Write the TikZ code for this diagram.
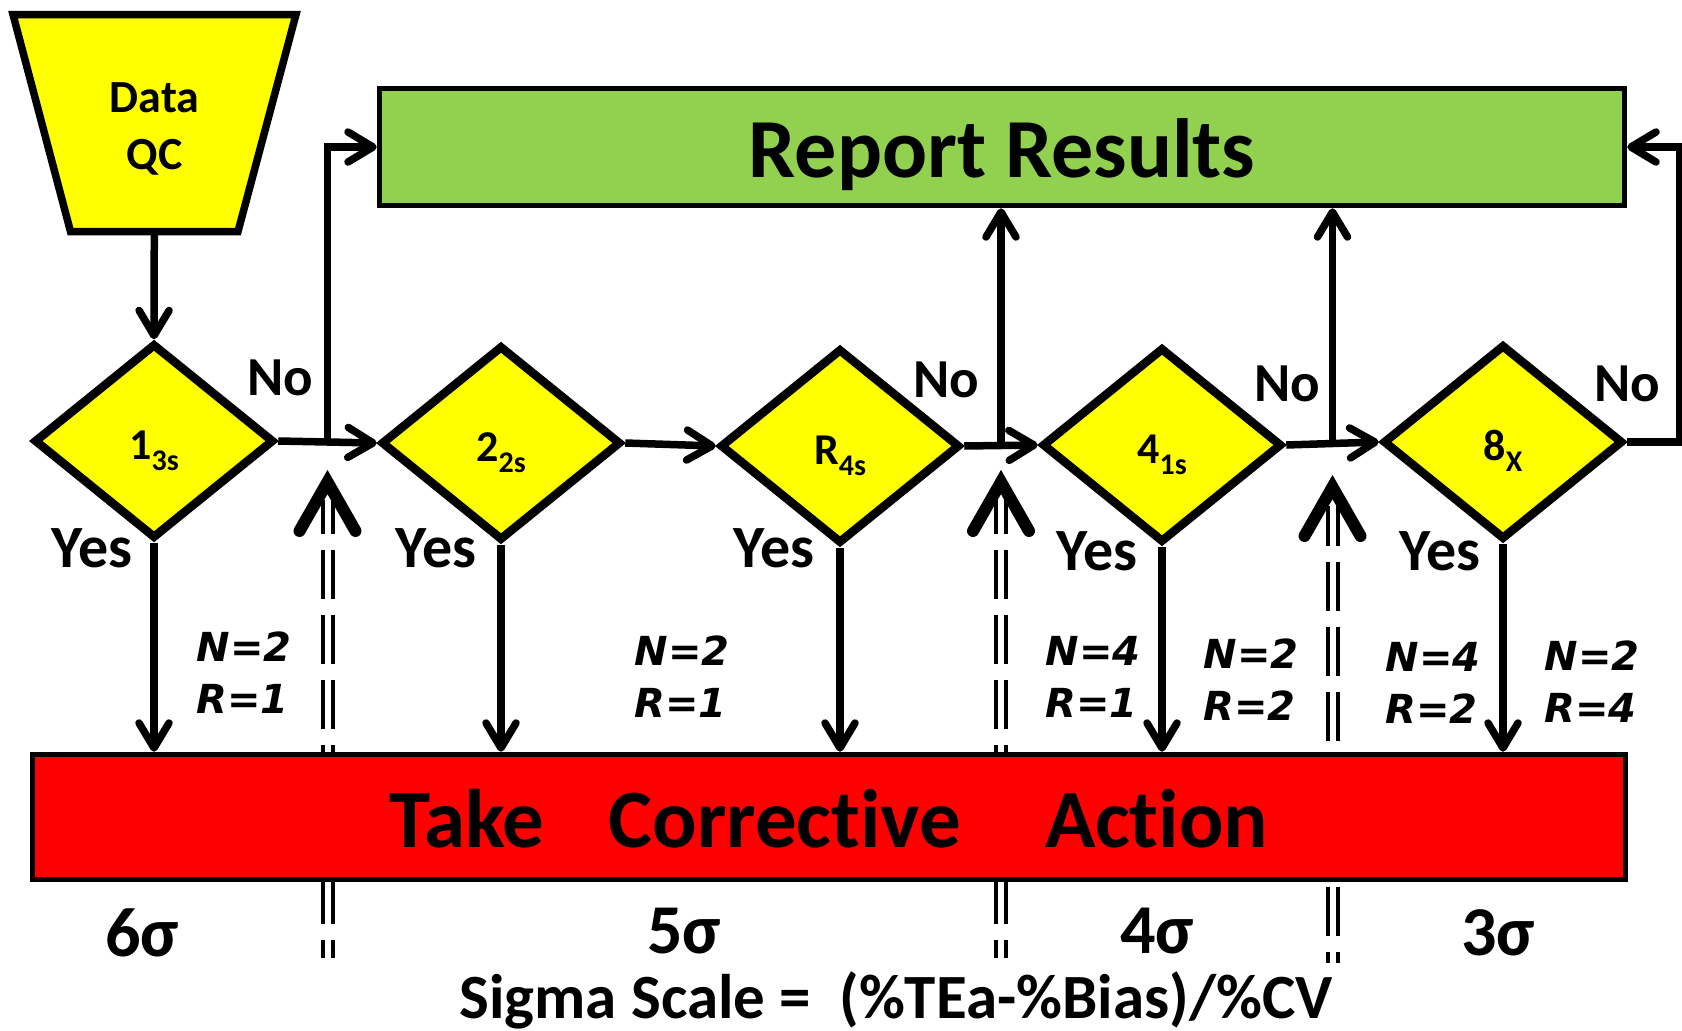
\documentclass[tikz,border=0pt]{standalone}
\usepackage{fontspec}
\setmainfont{Carlito}[Ligatures=NoCommon]
\newfontfamily\nrfont{DejaVu Sans}
\usetikzlibrary{shapes.geometric,arrows.meta,calc}
\definecolor{qcyellow}{HTML}{FFFF00}
\definecolor{qcgreen}{HTML}{92D050}
\definecolor{qcred}{HTML}{FF0000}
\newcommand\qcsub[1]{\raisebox{-11pt}{\fontsize{30}{30}\selectfont #1}}
\begin{document}
\begin{tikzpicture}[x=1pt,y=-1pt,
  rule/.style={diamond, draw=black, line width=8.5pt, fill=qcyellow, minimum width=240pt, minimum height=195pt, inner sep=0pt, text height=42pt, text depth=5pt, font=\bfseries\fontsize{44}{44}\selectfont},
  bigbox/.style={draw=black, line width=5.5pt, inner sep=0pt, text height=60pt, text depth=0pt, font=\bfseries\fontsize{84}{84}\selectfont},
  conn/.style={line width=7.5pt, -{Straight Barb[length=25pt,width=30pt,round]}},
  yn/.style={inner sep=0pt, font=\bfseries\fontsize{55}{55}\selectfont},
  yesl/.style={inner sep=0pt, font=\bfseries\fontsize{60}{60}\selectfont},
  nr/.style={inner sep=0pt, align=left, font=\nrfont\bfseries\itshape\fontsize{40}{52}\selectfont},
  sig/.style={inner sep=0pt, font=\bfseries\fontsize{70}{70}\selectfont},
  sigline/.style={draw=black, line width=4pt, double=white, double distance=6pt, dash pattern=on 49pt off 16pt, dash phase=15pt},
  bigtip/.style={line width=12pt, line cap=round, line join=miter},
]
\useasboundingbox (0,0) rectangle (1682,1031);

% start (trapezoid)
\draw[line width=7.5pt, line join=miter, fill=qcyellow] (13,14.5) -- (296,14.5) -- (238,231.5) -- (70.5,231.5) -- cycle;
\node[align=center, inner sep=0pt, font=\bfseries\fontsize{46}{57}\selectfont] (data) at (154.5,129) {Data\\QC};
\coordinate (dataout) at (154.3,232);

% rules
\node[rule] (d1) at (154,441) {1\qcsub{3s}};
\node[rule] (d2) at (501,443) {2\qcsub{2s}};
\node[rule] (d3) at (840,446) {R\qcsub{4s}};
\node[rule] (d4) at (1162,445) {4\qcsub{1s}};
\node[rule] (d5) at (1503,442) {8\qcsub{X}};

% junctions
\coordinate (b1) at ($(d1.east)!0.5!(d2.west)$);
\coordinate (b3) at ($(d3.east)!0.5!(d4.west)$);
\coordinate (b4) at ($(d4.east)!0.5!(d5.west)$);

% sigma scale separators (behind the red box)
\draw[sigline] (b1 |- 0,500) -- (b1 |- 0,958);
\draw[sigline] (b3 |- 0,500) -- (b3 |- 0,958);
\draw[sigline, dash phase=9pt] (b4 |- 0,506) -- (b4 |- 0,963);

% boxes
\node[bigbox, fill=qcgreen, minimum width=1245pt, minimum height=117pt] (report) at (1002,147) {Report Results};
\node[bigbox, fill=qcred, minimum width=1593pt, minimum height=125pt, font=\bfseries\fontsize{83}{83}\selectfont] (action) at (829,817) {Take\hspace{64pt}Corrective\hspace{84pt}Action};

% connectors
\draw[conn] (dataout) -- (d1.north);
\draw[conn] (d1.east) -- (d2.west);
\draw[conn] (d2.east) -- (d3.west);
\draw[conn] (d3.east) -- (d4.west);
\draw[conn] (d4.east) -- (d5.west);
\draw[conn] (b1) |- (report.west);
\draw[conn] (b3) -- (b3 |- report.south);
\draw[conn] (b4) -- (b4 |- report.south);
\draw[conn] (d5.east) -- ++(52,0) |- (report.east);
\foreach \d in {d1,d2,d3,d4,d5}
  \draw[conn] (\d.south) -- (\d.south |- action.north);

% big arrow tips on the separators
\draw[bigtip] (b1 |- 0,531) ++(-28,0) -- (b1 |- 0,482) -- ++(28,49);
\draw[bigtip] (b3 |- 0,531) ++(-28,0) -- (b3 |- 0,482) -- ++(28,49);
\draw[bigtip] (b4 |- 0,536) ++(-28,0) -- (b4 |- 0,487) -- ++(28,49);

% yes / no
\node[yn] (no1) at (280,378) {No};
\node[yn] (no3) at (946,380) {No};
\node[yn] (no4) at (1287,384) {No};
\node[yn] (no5) at (1627,384) {No};
\node[yesl] (yes1) at (92,548) {Yes};
\node[yesl] (yes2) at (436,548) {Yes};
\node[yesl] (yes3) at (774,548) {Yes};
\node[yesl] (yes4) at (1097,551) {Yes};
\node[yesl] (yes5) at (1440,551) {Yes};

% N / R
\node[nr] (nr1) at (244,673) {N=2\\R=1};
\node[nr] (nr2) at (682,677) {N=2\\R=1};
\node[nr] (nr3) at (1093,677) {N=4\\R=1};
\node[nr] (nr4) at (1251,680) {N=2\\R=2};
\node[nr] (nr5) at (1433,683) {N=4\\R=2};
\node[nr] (nr6) at (1592,682) {N=2\\R=4};

% sigma labels
\node[sig] (s6) at (142,933) {6σ};
\node[sig] (s5) at (684,931) {5σ};
\node[sig] (s4) at (1157,931) {4σ};
\node[sig] (s3) at (1498,933) {3σ};
\node[inner sep=0pt, font=\bfseries\fontsize{63}{63}\selectfont] (scale) at (896,1000) {Sigma Scale =\ \ (\%TEa-\%Bias)/\%CV};
\end{tikzpicture}
\end{document}
